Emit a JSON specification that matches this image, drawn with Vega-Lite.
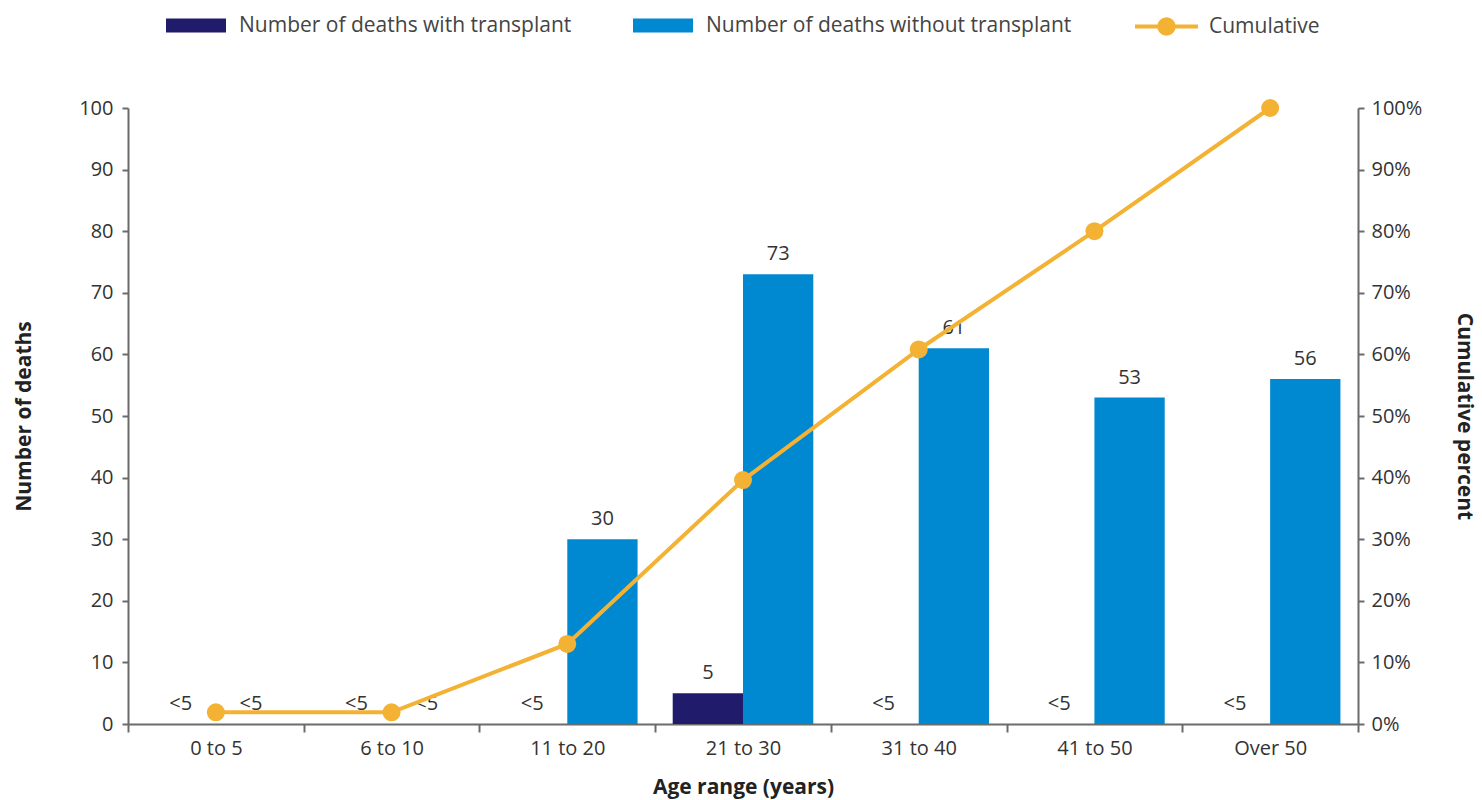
{
  "$schema": "https://vega.github.io/schema/vega-lite/v6.json",
  "width": 1230,
  "height": 616,
  "autosize": "none",
  "padding": {"left": 128, "top": 108, "right": 124, "bottom": 76},
  "background": "white",
  "config": {
    "font": "Open Sans",
    "view": {"stroke": null},
    "axis": {
      "grid": false,
      "domainColor": "#6b6b6b",
      "domainWidth": 2,
      "tickColor": "#6b6b6b",
      "tickWidth": 2,
      "labelFontSize": 20,
      "labelColor": "#333333",
      "labelFont": "Open Sans",
      "titleFont": "Open Sans",
      "titleFontSize": 21,
      "titleFontWeight": "bold",
      "titleColor": "#222222"
    },
    "legend": {
      "labelFont": "Open Sans",
      "labelFontSize": 21,
      "labelColor": "#444444",
      "labelLimit": 0,
      "padding": 0
    }
  },
  "datasets": {
    "deaths": [
      {"age": "0 to 5", "type": "Number of deaths with transplant", "deaths": 0, "label": "<5"},
      {"age": "0 to 5", "type": "Number of deaths without transplant", "deaths": 0, "label": "<5"},
      {"age": "6 to 10", "type": "Number of deaths with transplant", "deaths": 0, "label": "<5"},
      {"age": "6 to 10", "type": "Number of deaths without transplant", "deaths": 0, "label": "<5"},
      {"age": "11 to 20", "type": "Number of deaths with transplant", "deaths": 0, "label": "<5"},
      {"age": "11 to 20", "type": "Number of deaths without transplant", "deaths": 30, "label": "30"},
      {"age": "21 to 30", "type": "Number of deaths with transplant", "deaths": 5, "label": "5"},
      {"age": "21 to 30", "type": "Number of deaths without transplant", "deaths": 73, "label": "73"},
      {"age": "31 to 40", "type": "Number of deaths with transplant", "deaths": 0, "label": "<5"},
      {"age": "31 to 40", "type": "Number of deaths without transplant", "deaths": 61, "label": "61"},
      {"age": "41 to 50", "type": "Number of deaths with transplant", "deaths": 0, "label": "<5"},
      {"age": "41 to 50", "type": "Number of deaths without transplant", "deaths": 53, "label": "53"},
      {"age": "Over 50", "type": "Number of deaths with transplant", "deaths": 0, "label": "<5"},
      {"age": "Over 50", "type": "Number of deaths without transplant", "deaths": 56, "label": "56"}
    ],
    "cum": [
      {"age": "0 to 5", "cumulative": 0.019},
      {"age": "6 to 10", "cumulative": 0.019},
      {"age": "11 to 20", "cumulative": 0.13},
      {"age": "21 to 30", "cumulative": 0.396},
      {"age": "31 to 40", "cumulative": 0.608},
      {"age": "41 to 50", "cumulative": 0.80},
      {"age": "Over 50", "cumulative": 1.0}
    ]
  },
  "encoding": {
    "x": {
      "field": "age",
      "type": "nominal",
      "scale": {
        "domain": ["0 to 5", "6 to 10", "11 to 20", "21 to 30", "31 to 40", "41 to 50", "Over 50"],
        "paddingInner": 0,
        "paddingOuter": 0
      },
      "axis": {
        "title": "Age range (years)",
        "labelAngle": 0,
        "tickBand": "extent",
        "tickSize": 8,
        "labelPadding": 6,
        "titlePadding": 18
      }
    }
  },
  "layer": [
    {
      "data": {"name": "deaths"},
      "encoding": {
        "xOffset": {
          "field": "type",
          "type": "nominal",
          "scale": {
            "domain": ["Number of deaths with transplant", "Number of deaths without transplant"],
            "paddingInner": 0,
            "paddingOuter": 0.25
          }
        },
        "y": {
          "field": "deaths",
          "type": "quantitative",
          "scale": {"domain": [0, 100], "nice": false},
          "axis": {
            "title": "Number of deaths",
            "values": [0, 10, 20, 30, 40, 50, 60, 70, 80, 90, 100],
            "tickSize": 6,
            "labelPadding": 9,
            "titlePadding": 44
          }
        }
      },
      "layer": [
        {
          "mark": {"type": "bar"},
          "encoding": {
            "color": {
              "field": "type",
              "type": "nominal",
              "scale": {
                "domain": ["Number of deaths with transplant", "Number of deaths without transplant"],
                "range": ["#211b6b", "#0089d0"]
              },
              "legend": {
                "orient": "none",
                "legendX": 38,
                "legendY": -112.5,
                "direction": "horizontal",
                "title": null,
                "symbolType": "M-1,-0.233H1V0.233H-1Z",
                "symbolSize": 3600,
                "symbolStrokeWidth": 0,
                "labelOffset": 13,
                "columnPadding": 61
              }
            }
          }
        },
        {
          "mark": {"type": "text", "baseline": "bottom", "dy": -10, "fontSize": 20, "color": "#333333", "font": "Open Sans"},
          "encoding": {
            "text": {"field": "label", "type": "nominal"}
          }
        }
      ]
    },
    {
      "data": {"name": "cum"},
      "encoding": {
        "y": {
          "field": "cumulative",
          "type": "quantitative",
          "scale": {"domain": [0, 1], "nice": false},
          "axis": {
            "orient": "right",
            "title": "Cumulative percent",
            "format": ".0%",
            "values": [0, 0.1, 0.2, 0.3, 0.4, 0.5, 0.6, 0.7, 0.8, 0.9, 1],
            "tickSize": 6,
            "labelPadding": 7,
            "titlePadding": 32
          }
        }
      },
      "layer": [
        {
          "mark": {"type": "line", "strokeWidth": 4},
          "encoding": {
            "stroke": {
              "datum": "Cumulative",
              "scale": {"domain": ["Cumulative"], "range": ["#f3b234"]},
              "legend": {
                "orient": "none",
                "legendX": 1005,
                "legendY": -115,
                "title": null,
                "symbolType": "M-1,0H1M0.23,0A0.23,0.23,0,1,1,-0.23,0A0.23,0.23,0,1,1,0.23,0Z",
                "symbolSize": 3969,
                "symbolStrokeWidth": 4,
                "labelOffset": 9,
                "encode": {"symbols": {"update": {"fill": {"value": "#f3b234"}, "stroke": {"value": "#f3b234"}}}}
              }
            }
          }
        },
        {
          "mark": {"type": "point", "filled": true, "shape": "circle", "size": 324, "color": "#f3b234", "opacity": 1}
        }
      ]
    }
  ],
  "resolve": {"scale": {"y": "independent"}}
}
